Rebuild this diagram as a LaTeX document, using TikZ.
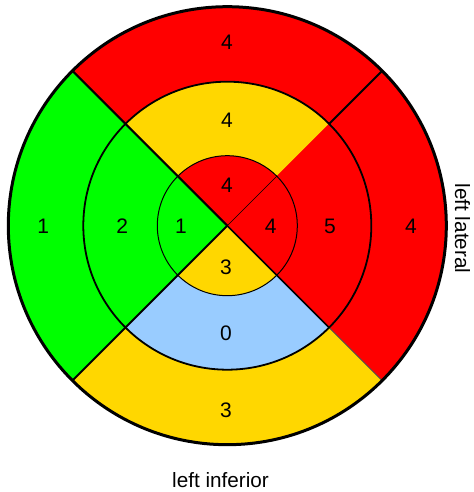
\documentclass[tikz,border=0pt]{standalone}
\usepackage{fontspec}
\setmainfont{Liberation Sans}
\definecolor{segred}{HTML}{FF0000}
\definecolor{seggreen}{HTML}{00FF00}
\definecolor{segyellow}{HTML}{FFD700}
\definecolor{segblue}{HTML}{99CCFF}
\tikzset{
  lbl/.style={inner sep=0pt, font=\fontsize{21bp}{24bp}\selectfont},
  axlbl/.style={inner sep=0pt, font=\fontsize{20.7bp}{24bp}\selectfont},
}
\newcommand{\sect}[4]{% colour, start, end, radius
  \fill[#1] (O) -- ([shift={(#2:#4)}]O) arc[start angle=#2, end angle=#3, radius=#4] -- cycle;}
\begin{document}
\begin{tikzpicture}[x=1bp,y=1bp]
\useasboundingbox (0,0) rectangle (474,492);
\coordinate (O) at (227.3,266.3);
% outer ring
\sect{segred}{45}{135}{219}
\sect{seggreen}{135}{225}{219}
\sect{segyellow}{225}{315}{219}
\sect{segred}{-45}{45}{219}
% middle ring
\sect{segyellow}{45}{135}{144}
\sect{seggreen}{135}{225}{144}
\sect{segblue}{225}{315}{144}
\sect{segred}{-45}{45}{144}
% inner disc
\sect{segred}{45}{135}{70}
\sect{seggreen}{135}{225}{70}
\sect{segyellow}{225}{315}{70}
\sect{segred}{-45}{45}{70}
% diagonals
\coordinate (nwo) at ([shift={(135:219)}]O);
\coordinate (swo) at ([shift={(225:219)}]O);
\coordinate (seo) at ([shift={(315:219)}]O);
\coordinate (sem) at ([shift={(315:144)}]O);
\coordinate (neo) at ([shift={(45:219)}]O);
\coordinate (nem) at ([shift={(45:144)}]O);
\coordinate (nei) at ([shift={(45:70)}]O);
\draw[line width=2bp] (O) -- (nwo);
\draw[line width=2bp] (O) -- (swo);
\draw[line width=1.6bp] (O) -- (sem);
\draw[line width=0.9bp, black!70] (sem) -- (seo);
\draw[line width=0.7bp] (O) -- (nei);
\draw[line width=2bp] (nem) -- (neo);
% circles
\draw[line width=1bp] (O) circle[radius=70];
\draw[line width=1.8bp] (O) circle[radius=144];
\draw[line width=3bp] (O) circle[radius=219];
% labels
\node[lbl] (o1) at (227,449.3) {4};
\node[lbl] (o2) at (43.3,266) {1};
\node[lbl] (o3) at (226,82) {3};
\node[lbl] (o4) at (411,266) {4};
\node[lbl] (m1) at (227,371.3) {4};
\node[lbl] (m2) at (122.3,266) {2};
\node[lbl] (m3) at (226,158.7) {0};
\node[lbl] (m4) at (330,266) {5};
\node[lbl] (i1) at (227,307) {4};
\node[lbl] (i2) at (181,266) {1};
\node[lbl] (i3) at (226,224.3) {3};
\node[lbl] (i4) at (270.7,266) {4};
\node[axlbl, anchor=base] (inf) at (220.5,4) {left inferior};
\node[axlbl, anchor=base, rotate=-90] (lat) at (455,263.5) {left lateral};
\end{tikzpicture}
\end{document}
